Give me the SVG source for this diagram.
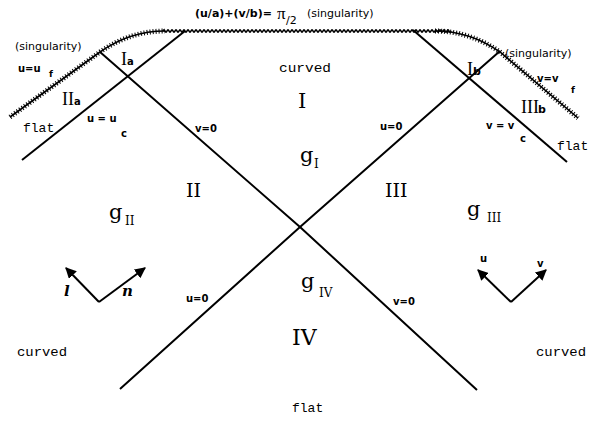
<svg xmlns="http://www.w3.org/2000/svg" width="591" height="423" viewBox="0 0 591 423">
<defs>
<style>
.ln{stroke:#000;stroke-width:2;fill:none}
.sg{stroke:#000;stroke-width:1.6;fill:none}
.sgd{stroke:#000;stroke-width:5;fill:none;stroke-dasharray:1 2}
.wv{stroke:#000;stroke-width:1.6;fill:none}
.b{font-family:"DejaVu Sans",sans-serif;font-weight:bold;font-size:10px;fill:#000}
.bs{font-family:"DejaVu Sans",sans-serif;font-weight:bold;font-size:9px;fill:#000}
.sng{font-family:"DejaVu Sans",sans-serif;font-size:11px;fill:#000}
.r{font-family:"DejaVu Serif",serif;font-size:19px;fill:#000}
.rs{font-family:"DejaVu Serif",serif;font-size:12px;fill:#000}
.hs{font-family:"Liberation Serif",serif;font-size:18px;fill:#000}
.hsa{font-family:"DejaVu Sans",sans-serif;font-weight:bold;font-size:10px;fill:#000}
.m{font-family:"Liberation Mono",monospace;font-size:13px;fill:#000}
.it{font-family:"DejaVu Serif",serif;font-weight:bold;font-style:italic;font-size:15px;fill:#000}
</style>
<marker id="ah" viewBox="0 0 10 10" refX="9" refY="5" markerWidth="11" markerHeight="11" markerUnits="userSpaceOnUse" orient="auto">
<path d="M0,0 L10,5 L0,10 z" fill="#000"/>
</marker>
</defs>

<g id="singularity">
<path class="sg" d="M10,117 L100,52 Q130,31 165,31"/>
<path class="sgd" d="M10,117 L100,52 Q130,31 165,31"/>
<path class="sg" d="M435,31 Q470,31 500,52 L578,118"/>
<path class="sgd" d="M435,31 Q470,31 500,52 L578,118"/>
<path class="wv" d="M163,31 q1,-2.4 2,0 t2,0 t2,0 t2,0 t2,0 t2,0 t2,0 t2,0 t2,0 t2,0 t2,0 t2,0 t2,0 t2,0 t2,0 t2,0 t2,0 t2,0 t2,0 t2,0 t2,0 t2,0 t2,0 t2,0 t2,0 t2,0 t2,0 t2,0 t2,0 t2,0 t2,0 t2,0 t2,0 t2,0 t2,0 t2,0 t2,0 t2,0 t2,0 t2,0 t2,0 t2,0 t2,0 t2,0 t2,0 t2,0 t2,0 t2,0 t2,0 t2,0 t2,0 t2,0 t2,0 t2,0 t2,0 t2,0 t2,0 t2,0 t2,0 t2,0 t2,0 t2,0 t2,0 t2,0 t2,0 t2,0 t2,0 t2,0 t2,0 t2,0 t2,0 t2,0 t2,0 t2,0 t2,0 t2,0 t2,0 t2,0 t2,0 t2,0 t2,0 t2,0 t2,0 t2,0 t2,0 t2,0 t2,0 t2,0 t2,0 t2,0 t2,0 t2,0 t2,0 t2,0 t2,0 t2,0 t2,0 t2,0 t2,0 t2,0 t2,0 t2,0 t2,0 t2,0 t2,0 t2,0 t2,0 t2,0 t2,0 t2,0 t2,0 t2,0 t2,0 t2,0 t2,0 t2,0 t2,0 t2,0 t2,0 t2,0 t2,0 t2,0 t2,0 t2,0 t2,0 t2,0 t2,0 t2,0 t2,0 t2,0 t2,0 t2,0 t2,0 t2,0 t2,0 t2,0 t2,0 t2,0 t2,0 t2,0 t2,0 t2,0 t2,0 t2,0"/>
</g>

<g id="connectors">
<line class="ln" x1="22" y1="160" x2="185" y2="31"/>
<polyline class="ln" points="100,52 300,227 477,390"/>
<polyline class="ln" points="500,51 300,227 120,389"/>
<line class="ln" x1="413" y1="30" x2="567" y2="162"/>
<line class="ln" x1="99" y1="302" x2="66" y2="268" marker-end="url(#ah)"/>
<line class="ln" x1="99" y1="302" x2="145" y2="268" marker-end="url(#ah)"/>
<line class="ln" x1="511" y1="302" x2="478" y2="270" marker-end="url(#ah)"/>
<line class="ln" x1="511" y1="302" x2="546" y2="270" marker-end="url(#ah)"/>
</g>

<g id="label-top">
<text class="b" x="195" y="17" style="font-size:11px">(u/a)+(v/b)=</text>
<text x="277" y="19" style="font-family:'Liberation Serif',serif;font-size:17px">π</text>
<text class="hsa" x="286" y="24" style="font-size:11px;font-weight:normal">/2</text>
<text class="sng" x="307" y="17">(singularity)</text>
</g>
<g id="label-sing-left"><text class="sng" x="15" y="50">(singularity)</text></g>
<g id="label-uuf"><text class="b" x="18" y="72">u=u</text><text class="bs" x="49" y="77">f</text></g>
<g id="region-IIa"><text class="hs" x="62" y="105">II</text><text class="hsa" x="74" y="105">a</text></g>
<g id="region-Ia"><text class="hs" x="121" y="65">I</text><text class="hsa" x="127" y="65">a</text></g>
<g id="label-flat-left"><text class="m" x="23" y="132">flat</text></g>
<g id="label-uuc"><text class="b" x="87" y="122">u = u</text><text class="b" x="121" y="137">c</text></g>
<g id="label-v0-upper"><text class="b" x="195" y="132">v=0</text></g>
<g id="label-curved-top"><text class="m" x="279" y="72" textLength="52" lengthAdjust="spacingAndGlyphs">curved</text></g>
<g id="region-I"><text class="r" x="298" y="108" style="font-size:21px">I</text></g>
<g id="label-gI"><text class="r" x="300" y="162" style="font-size:21px">g</text><text class="rs" x="314" y="168">I</text></g>
<g id="label-u0-upper"><text class="b" x="380" y="130">u=0</text></g>
<g id="region-Ib"><text class="hs" x="467" y="75">I</text><text class="hsa" x="473" y="75" style="font-size:11px">b</text></g>
<g id="label-sing-right"><text class="sng" x="505" y="57">(singularity)</text></g>
<g id="label-vvf"><text class="b" x="537" y="82">v=v</text><text class="bs" x="571" y="93">f</text></g>
<g id="region-IIIb"><text class="hs" x="521" y="113">III</text><text class="hsa" x="538" y="113" style="font-size:11px">b</text></g>
<g id="label-vvc"><text class="b" x="486" y="129">v = v</text><text class="b" x="520" y="142">c</text></g>
<g id="label-flat-right"><text class="m" x="557" y="150">flat</text></g>
<g id="region-II"><text class="r" x="186" y="197">II</text></g>
<g id="region-III"><text class="r" x="385" y="197">III</text></g>
<g id="label-gII"><text class="r" x="109" y="219" style="font-size:21px">g</text><text class="rs" x="125" y="225">II</text></g>
<g id="label-gIII"><text class="r" x="467" y="216" style="font-size:21px">g</text><text class="rs" x="487" y="222">III</text></g>
<g id="label-l"><text class="it" x="64" y="296">l</text></g>
<g id="label-n"><text class="it" x="122" y="296">n</text></g>
<g id="label-u"><text class="b" x="480" y="262">u</text></g>
<g id="label-v"><text class="b" x="537" y="267">v</text></g>
<g id="label-u0-lower"><text class="b" x="186" y="302">u=0</text></g>
<g id="label-gIV"><text class="r" x="301" y="288" style="font-size:21px">g</text><text class="rs" x="319" y="297">IV</text></g>
<g id="label-v0-lower"><text class="b" x="393" y="305">v=0</text></g>
<g id="region-IV"><text class="r" x="292" y="345" style="font-size:22px">IV</text></g>
<g id="label-curved-left"><text class="m" x="17" y="356" textLength="50" lengthAdjust="spacingAndGlyphs">curved</text></g>
<g id="label-curved-right"><text class="m" x="536" y="356" textLength="50" lengthAdjust="spacingAndGlyphs">curved</text></g>
<g id="label-flat-bottom"><text class="m" x="292" y="412">flat</text></g>
</svg>
